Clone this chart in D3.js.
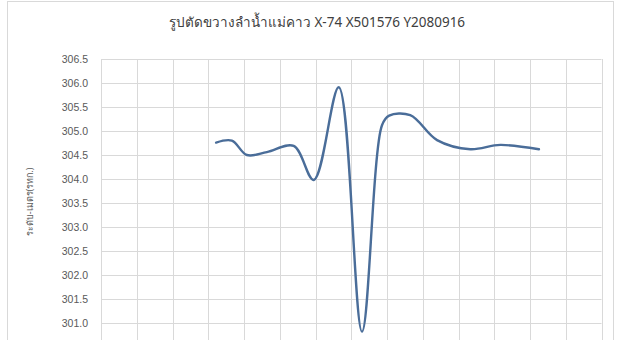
<!DOCTYPE html>
<html>
<head>
<meta charset="utf-8">
<script src="https://cdn.jsdelivr.net/npm/d3@7"></script>
<style>
  html, body { margin: 0; padding: 0; background: #fff; overflow: hidden; }
  svg { display: block; }
</style>
</head>
<body>
<script>
// Cross-section survey: station distance (m) and bed elevation (m MSL)
const distances  = [32.2, 36.6, 40.8, 46.4, 53.9, 59.5, 66.5, 73.0, 78.6, 80.6, 86.5, 94.0, 103.3, 111.7, 122.5];
const elevations = [304.76, 304.80, 304.50, 304.56, 304.69, 303.98, 305.91, 300.82, 305.12, 305.32, 305.33, 304.81, 304.62, 304.71, 304.62];
const yTicks = [301.0, 301.5, 302.0, 302.5, 303.0, 303.5, 304.0, 304.5, 305.0, 305.5, 306.0, 306.5];
const xTicks = d3.range(0, 141, 10);

const title = "รูปตัดขวางลำน้ำแม่คาว X-74 X501576 Y2080916";
const yLabel = "ระดับ-เมตร(รทก.)";

const W = 622, H = 340;
const plot = { left: 101, right: 601.5, top: 59, bottom: 347 };

const svg = d3.select("body").append("svg").attr("width", W).attr("height", H);

// chart frame
svg.append("rect")
  .attr("x", 7.5).attr("y", 1.5).attr("width", 606).attr("height", 360)
  .attr("fill", "#fff").attr("stroke", "#d9d9d9").attr("stroke-width", 1);

const x = d3.scaleLinear().domain([0, 140]).range([plot.left, plot.right]);
const y = d3.scaleLinear().domain([300.5, 306.5]).range([plot.bottom, plot.top]);

// gridlines
const grid = svg.append("g").attr("stroke", "#d9d9d9").attr("stroke-width", 1);
grid.selectAll("line.h").data(yTicks).join("line")
  .attr("x1", plot.left).attr("x2", plot.right)
  .attr("y1", d => Math.round(y(d)) + 0.5).attr("y2", d => Math.round(y(d)) + 0.5);
grid.selectAll("line.v").data(xTicks).join("line")
  .attr("y1", plot.top).attr("y2", plot.bottom + 30)
  .attr("x1", d => Math.round(x(d)) + 0.5).attr("x2", d => Math.round(x(d)) + 0.5);

// y axis labels
const yAxis = d3.axisLeft(y).tickValues(yTicks).tickFormat(d3.format(".1f")).tickSize(0).tickPadding(13);
svg.append("g")
  .attr("transform", `translate(${plot.left},0)`)
  .call(yAxis)
  .call(g => g.select(".domain").remove())
  .call(g => g.selectAll("text")
    .attr("fill", "#595959")
    .attr("font-family", "'Liberation Sans', Arial, sans-serif")
    .attr("font-size", 10.5));

// title
svg.append("text")
  .attr("x", 317).attr("y", 27)
  .attr("text-anchor", "middle")
  .attr("fill", "#404040")
  .attr("font-family", "'Noto Sans', 'DejaVu Sans', sans-serif")
  .attr("font-size", 13.5)
  .text(title);

// y axis title
svg.append("text")
  .attr("transform", "translate(33,202) rotate(-90)")
  .attr("text-anchor", "middle")
  .attr("fill", "#595959")
  .attr("font-family", "'Noto Sans', 'DejaVu Sans', sans-serif")
  .attr("font-size", 9)
  .text(yLabel);

// profile line (smoothed)
const line = d3.line()
  .x((d, i) => x(distances[i]))
  .y(d => y(d))
  .curve(d3.curveCatmullRom.alpha(0.5));

svg.append("path")
  .datum(elevations)
  .attr("fill", "none")
  .attr("stroke", "#4a6d99")
  .attr("stroke-width", 2.4)
  .attr("stroke-linejoin", "round")
  .attr("stroke-linecap", "round")
  .attr("d", line);
</script>
</body>
</html>
